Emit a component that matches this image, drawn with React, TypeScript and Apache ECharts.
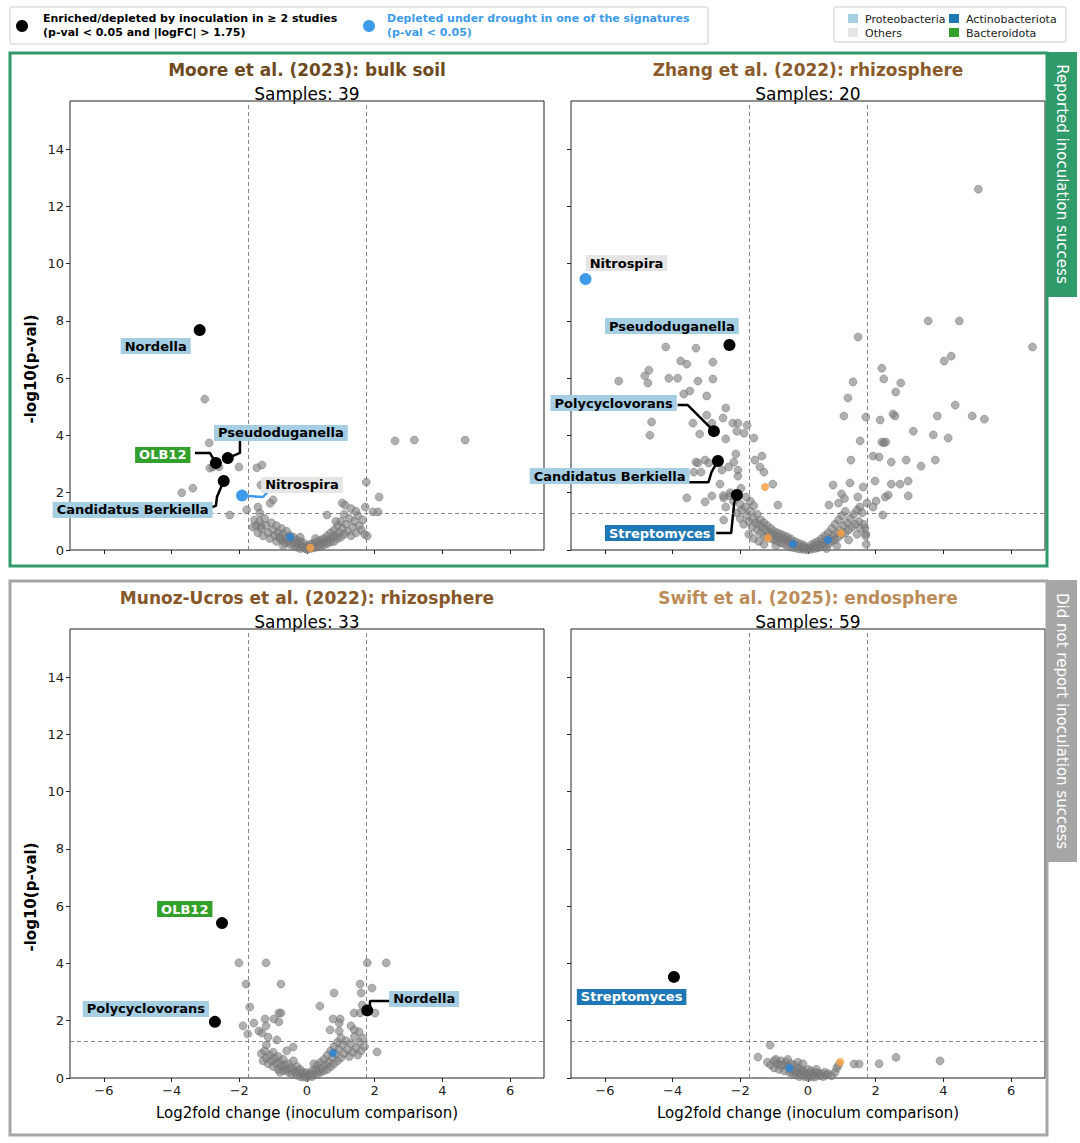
import React, { useEffect, useRef } from 'react';
import * as echarts from 'echarts';

const FONT = 'DejaVu Sans';
const X_TICKS = [-6, -4, -2, 0, 2, 4, 6];
const Y_TICKS = [0, 2, 4, 6, 8, 10, 12, 14];
const LOGFC_CUT = 1.75;
const P_CUT = 1.301;

const PHYLUM_BG: Record<string, string> = {
  Proteobacteria: '#a6cee3', Actinobacteriota: '#1f78b4', Others: '#e5e5e5', Bacteroidota: '#33a02c',
};
const PHYLUM_FG: Record<string, string> = {
  Proteobacteria: '#000', Actinobacteriota: '#fff', Others: '#000', Bacteroidota: '#fff',
};

const studyTitles = ['Moore et al. (2023): bulk soil', 'Zhang et al. (2022): rhizosphere', 'Munoz-Ucros et al. (2022): rhizosphere', 'Swift et al. (2025): endosphere'];
const studySamples = [39, 20, 33, 59];
const titleColors = ['#6e4a1f', '#8a5a2b', '#86572a', '#bb8c58'];

// ---------- Moore (top-left) ----------
const mooreGray: number[][] = [
  [-3.02, 5.27], [-2.89, 3.74], [-2.87, 2.86], [-2.01, 2.9], [-1.48, 2.87], [-1.33, 2.97], [-1.36, 2.27], [-3.7, 2.0], [-3.37, 2.16],
  [-2.28, 1.22], [-1.78, 1.4], [-1.0, 1.75], [-1.09, 1.63], [-1.45, 1.5], [-1.39, 1.29], [-1.6, 0.8], [-1.55, 1.05], [-1.36, 0.84],
  [2.6, 3.81], [3.17, 3.84], [4.67, 3.84], [1.75, 2.37], [2.13, 1.85], [1.95, 1.33], [2.1, 1.33], [1.72, 1.5], [1.04, 1.64], [1.12, 1.57],
  [1.78, 0.49], [-2.6, 2.9], [-2.78, 2.9], [0.59, 1.22], [1.3, 1.45], [1.45, 1.35],
  [-1.5, 0.85], [-1.45, 0.6], [-1.4, 1.0], [-1.35, 0.75], [-1.3, 0.5], [-1.25, 1.1], [-1.2, 0.85], [-1.15, 0.6], [-1.1, 0.4], [-1.05, 0.95],
  [-1.0, 0.7], [-0.95, 0.5], [-0.9, 0.3], [-0.9, 0.85], [-0.85, 0.6], [-0.8, 0.45], [-0.75, 0.35], [-0.75, 0.75], [-0.7, 0.55], [-0.65, 0.25],
  [-0.6, 0.4], [-0.6, 0.65], [-0.55, 0.3], [-0.5, 0.2], [-0.5, 0.5], [-0.45, 0.35], [-0.4, 0.15], [-0.4, 0.45], [-0.35, 0.25], [-0.3, 0.1],
  [-0.3, 0.35], [-0.25, 0.2], [-0.2, 0.05], [-0.2, 0.3], [-0.15, 0.15], [-0.1, 0.1], [-0.1, 0.25], [-0.05, 0.05], [0, 0.15], [0, 0.02],
  [0.05, 0.1], [0.1, 0.2], [0.1, 0.05], [0.15, 0.12], [0.2, 0.25], [0.2, 0.08], [0.25, 0.15], [0.3, 0.3], [0.3, 0.1], [0.35, 0.2],
  [0.4, 0.35], [0.4, 0.12], [0.45, 0.25], [0.5, 0.4], [0.5, 0.18], [0.55, 0.3], [0.6, 0.5], [0.6, 0.22], [0.65, 0.35], [0.7, 0.6],
  [0.7, 0.28], [0.75, 0.45], [0.8, 0.7], [0.8, 0.3], [0.85, 0.5], [0.9, 0.85], [0.9, 0.4], [0.95, 0.6], [1.0, 1.0], [1.0, 0.45],
  [1.05, 0.75], [1.1, 0.55], [1.15, 0.9], [1.2, 0.65], [1.25, 1.1], [1.3, 0.5], [1.35, 0.8], [1.4, 1.0], [1.45, 0.6], [1.5, 1.2],
  [1.55, 0.85], [1.6, 0.7], [1.65, 1.05], [1.7, 0.55], [-0.8, 0.42], [-0.7, 0.15], [0.25, 0.4], [-0.2, 0.45], [1.1, 1.25], [0.85, 1.0],
];
const mooreOrange: number[][] = [[0.1, 0.08]];
const mooreBlueSmall: number[][] = [[-0.5, 0.45]];
const mooreBlack: number[][] = [[-3.17, 7.68], [-2.69, 3.04], [-2.34, 3.21], [-2.46, 2.41]];
const mooreBlue: number[][] = [[-1.92, 1.9]];

// ---------- Zhang (top-right) ----------
const zhangGray: number[][] = [
  [-4.2, 7.09], [-3.31, 7.05], [-3.76, 6.6], [-3.58, 6.49], [-2.81, 6.56], [-4.7, 6.28], [-4.82, 6.08], [-4.73, 5.83], [-5.59, 5.9],
  [-4.11, 6.0], [-3.85, 6.0], [-3.25, 5.9], [-2.81, 5.97], [-3.49, 5.55], [-3.67, 5.45], [-2.99, 5.38], [-4.62, 4.47], [-4.67, 4.01],
  [-3.4, 4.43], [-2.99, 4.71], [-2.84, 4.43], [-3.2, 4.05], [-2.51, 4.61], [-2.43, 4.96], [-2.43, 3.88], [-2.22, 4.43], [-2.07, 4.43],
  [-1.8, 4.36], [-2.1, 4.15], [-1.89, 4.08], [-1.6, 3.91], [-2.13, 3.35], [-2.19, 3.07], [-3.31, 3.07], [-3.25, 3.04], [-3.04, 3.14],
  [-2.93, 3.04], [-3.37, 2.72], [-3.16, 2.72], [-2.54, 2.79], [-2.34, 2.9], [-2.07, 2.79], [-2.07, 2.58], [-1.57, 3.14], [-1.36, 3.28],
  [-1.42, 2.9], [-1.3, 2.72], [-3.58, 1.82], [-3.04, 1.68], [-2.84, 1.89], [-2.6, 2.3], [-2.49, 1.82], [-2.43, 1.5], [-2.31, 1.89],
  [-1.98, 2.16], [-1.83, 1.85], [-2.49, 1.05], [-1.04, 2.3], [-0.89, 1.57],
  [5.03, 12.6], [3.55, 8.0], [4.47, 8.0], [6.63, 7.09], [1.48, 7.44], [4.02, 6.6], [4.23, 6.77], [2.18, 6.35], [2.24, 5.97], [2.74, 5.83],
  [2.59, 5.52], [1.33, 5.87], [1.18, 5.31], [1.06, 4.68], [1.71, 4.64], [2.13, 4.54], [2.51, 4.75], [2.57, 4.68], [4.35, 5.06], [3.82, 4.68],
  [4.85, 4.68], [5.21, 4.57], [3.11, 4.15], [3.7, 4.02], [4.14, 3.91], [1.54, 3.81], [2.18, 3.77], [2.24, 3.74], [2.3, 3.77], [1.27, 3.14],
  [1.92, 3.28], [2.1, 3.25], [2.46, 3.07], [2.9, 3.14], [3.34, 2.93], [3.76, 3.14], [0.74, 2.27], [1.24, 2.34], [1.63, 2.2], [1.98, 2.41],
  [2.46, 2.3], [2.72, 2.3], [2.96, 2.41], [0.99, 1.96], [1.08, 1.8], [0.9, 1.64], [0.62, 1.57], [1.47, 1.85], [1.74, 1.64], [1.53, 1.5],
  [1.92, 1.5], [2.01, 1.71], [2.28, 1.85], [2.37, 1.92], [2.96, 1.89], [2.21, 1.22], [1.68, 0.77], [1.71, 0.56],
  [-2.3, 2.0], [-2.5, 1.9], [-1.7, 1.7], [-1.6, 1.55], [-2.2, 1.7], [-2.1, 1.3], [-2.0, 1.6], [-2.0, 1.1], [-1.95, 1.4], [-1.9, 0.9],
  [-1.85, 1.5], [-1.8, 1.2], [-1.75, 1.0], [-1.7, 1.35], [-1.65, 0.8], [-1.6, 1.1], [-1.55, 0.95], [-1.5, 1.25], [-1.5, 0.7], [-1.45, 0.9],
  [-1.4, 1.05], [-1.4, 0.6], [-1.35, 0.8], [-1.3, 0.95], [-1.3, 0.5], [-1.25, 0.7], [-1.2, 0.85], [-1.2, 0.45], [-1.15, 0.6], [-1.1, 0.75],
  [-1.1, 0.4], [-1.05, 0.55], [-1.0, 0.65], [-1.0, 0.35], [-0.95, 0.5], [-0.9, 0.3], [-0.9, 0.6], [-0.85, 0.45], [-0.8, 0.25], [-0.8, 0.55],
  [-0.75, 0.4], [-0.7, 0.2], [-0.7, 0.5], [-0.65, 0.35], [-0.6, 0.15], [-0.6, 0.45], [-0.55, 0.3], [-0.5, 0.1], [-0.5, 0.38], [-0.45, 0.22],
  [-0.4, 0.08], [-0.4, 0.3], [-0.35, 0.15], [-0.3, 0.05], [-0.3, 0.25], [-0.25, 0.12], [-0.2, 0.03], [-0.2, 0.2], [-0.15, 0.1], [-0.1, 0.02],
  [-0.1, 0.15], [-0.05, 0.06], [0, 0.01], [0.05, 0.08], [0.1, 0.03], [0.1, 0.18], [0.15, 0.1], [0.2, 0.05], [0.2, 0.25], [0.25, 0.15],
  [0.3, 0.08], [0.3, 0.3], [0.35, 0.2], [0.4, 0.12], [0.4, 0.4], [0.45, 0.25], [0.5, 0.15], [0.5, 0.5], [0.55, 0.35], [0.6, 0.2],
  [0.6, 0.6], [0.65, 0.4], [0.7, 0.3], [0.7, 0.75], [0.75, 0.5], [0.8, 0.35], [0.8, 0.9], [0.85, 0.6], [0.9, 0.45], [0.9, 1.05],
  [0.95, 0.7], [1.0, 0.55], [1.0, 1.2], [1.05, 0.85], [1.1, 0.6], [1.1, 1.35], [1.15, 0.95], [1.2, 0.7], [1.25, 1.1], [1.3, 0.8],
  [1.35, 1.25], [1.4, 0.9], [1.45, 1.4], [1.5, 1.0], [1.55, 0.75], [1.6, 1.3], [1.65, 0.9], [1.7, 0.5], [1.72, 0.2],
  [-1.75, 0.55], [-1.6, 0.4], [-1.45, 0.3], [-1.3, 0.2], [-0.95, 0.15], [0.55, 0.05], [0.85, 0.15], [1.2, 0.35], [1.45, 0.55],
];
const zhangOrange: number[][] = [[-1.27, 2.2], [-1.18, 0.42], [0.97, 0.59]];
const zhangBlueSmall: number[][] = [[-0.44, 0.21], [0.59, 0.35]];
const zhangBlack: number[][] = [[-2.32, 7.16], [-2.78, 4.15], [-2.66, 3.11], [-2.1, 1.92]];
const zhangBlue: number[][] = [[-6.57, 9.46]];

// ---------- Munoz-Ucros (bottom-left) ----------
const munozGray: number[][] = [
  [-2.01, 4.02], [-1.21, 4.02], [-1.8, 3.28], [-0.77, 3.28], [-1.69, 2.48], [-1.89, 1.82], [-1.75, 1.54], [-1.57, 1.92], [-1.24, 2.06],
  [-1.21, 1.82], [-0.98, 2.06], [-0.83, 2.27], [-0.77, 2.27], [-0.83, 1.96], [-1.42, 1.64], [-1.33, 1.57], [-1.15, 1.43], [-0.89, 1.33],
  [0.38, 2.51], [0.8, 2.97], [0.77, 2.06], [0.98, 2.06], [0.95, 1.92], [0.68, 1.68], [0.95, 1.64], [1.3, 1.82], [1.4, 1.68], [1.54, 1.61],
  [1.57, 3.28], [1.78, 4.02], [2.34, 4.02], [1.6, 2.97], [1.63, 2.55], [1.92, 3.14], [1.39, 2.27], [1.57, 2.27], [2.01, 2.27], [2.07, 0.91],
  [-0.41, 1.08],
  [-1.35, 0.85], [-1.3, 0.6], [-1.25, 0.95], [-1.2, 0.7], [-1.15, 0.5], [-1.1, 0.8], [-1.05, 0.6], [-1.0, 0.4], [-1.0, 0.9], [-0.95, 0.7],
  [-0.9, 0.5], [-0.85, 0.3], [-0.85, 0.75], [-0.8, 0.55], [-0.75, 0.4], [-0.7, 0.25], [-0.7, 0.65], [-0.65, 0.45], [-0.6, 0.3], [-0.55, 0.2],
  [-0.55, 0.5], [-0.5, 0.35], [-0.45, 0.15], [-0.4, 0.3], [-0.4, 0.6], [-0.35, 0.2], [-0.3, 0.1], [-0.3, 0.4], [-0.25, 0.25], [-0.2, 0.05],
  [-0.2, 0.3], [-0.15, 0.15], [-0.1, 0.03], [-0.1, 0.2], [-0.05, 0.1], [0, 0.02], [0, 0.18], [0.05, 0.08], [0.1, 0.15], [0.15, 0.05],
  [0.15, 0.25], [0.2, 0.12], [0.25, 0.3], [0.3, 0.15], [0.3, 0.45], [0.35, 0.25], [0.4, 0.55], [0.4, 0.2], [0.45, 0.35], [0.5, 0.65],
  [0.5, 0.25], [0.55, 0.45], [0.6, 0.8], [0.6, 0.3], [0.65, 0.55], [0.7, 0.95], [0.7, 0.4], [0.75, 0.7], [0.8, 1.1], [0.8, 0.5],
  [0.85, 0.85], [0.9, 1.25], [0.9, 0.6], [0.95, 1.0], [1.0, 1.4], [1.0, 0.7], [1.05, 1.15], [1.1, 0.85], [1.15, 1.3], [1.2, 1.0],
  [1.25, 0.75], [1.3, 1.2], [1.35, 0.9], [1.4, 1.45], [1.45, 1.05], [1.5, 0.8], [1.55, 1.25], [1.6, 0.95], [1.65, 1.4], [1.7, 1.1],
  [-1.2, 1.15], [-0.6, 0.95], [0.2, 0.5], [-0.8, 0.2],
];
const munozOrange: number[][] = [];
const munozBlueSmall: number[][] = [[0.77, 0.87]];
const munozBlack: number[][] = [[-2.51, 5.41], [-2.72, 1.96], [1.78, 2.36]];
const munozBlue: number[][] = [];

// ---------- Swift (bottom-right) ----------
const swiftGray: number[][] = [
  [-1.12, 1.15], [-1.48, 0.73], [1.36, 0.49], [1.51, 0.49], [2.1, 0.5], [2.6, 0.72], [3.9, 0.6],
  [-1.2, 0.55], [-1.1, 0.45], [-1.0, 0.6], [-1.0, 0.35], [-0.9, 0.5], [-0.85, 0.3], [-0.8, 0.6], [-0.75, 0.45], [-0.7, 0.25], [-0.65, 0.55],
  [-0.6, 0.4], [-0.55, 0.2], [-0.5, 0.5], [-0.5, 0.3], [-0.45, 0.15], [-0.4, 0.45], [-0.4, 0.25], [-0.35, 0.1], [-0.3, 0.35], [-0.3, 0.2],
  [-0.25, 0.05], [-0.2, 0.3], [-0.2, 0.15], [-0.15, 0.25], [-0.1, 0.05], [-0.1, 0.2], [-0.05, 0.12], [0, 0.02], [0, 0.3], [0.05, 0.15],
  [0.1, 0.05], [0.1, 0.25], [0.15, 0.12], [0.2, 0.2], [0.2, 0.03], [0.25, 0.1], [0.3, 0.18], [0.35, 0.08], [0.4, 0.15], [0.45, 0.05],
  [0.5, 0.2], [0.55, 0.1], [0.6, 0.15], [0.7, 0.08], [0.8, 0.2], [0.85, 0.35], [0.9, 0.45], [-0.3, 0.55], [-0.6, 0.65], [-0.15, 0.5],
  [0.25, 0.3], [-0.95, 0.65], [-0.8, 0.45],
];
const swiftOrange: number[][] = [[0.95, 0.56]];
const swiftBlueSmall: number[][] = [[-0.55, 0.35]];
const swiftBlack: number[][] = [[-3.96, 3.53]];
const swiftBlue: number[][] = [];

// ---------- Annotations (label anchor + connector path, data units) ----------
type Ann = { text: string; phylum: string; at: number[]; path?: number[][]; lineColor?: string };
const mooreAnn: Ann[] = [
  { text: 'Nordella', phylum: 'Proteobacteria', at: [-4.47, 7.12] },
  { text: 'OLB12', phylum: 'Bacteroidota', at: [-4.26, 3.32], path: [[-3.31, 3.39], [-2.87, 3.39], [-2.69, 3.04]] },
  { text: 'Pseudoduganella', phylum: 'Proteobacteria', at: [-0.77, 4.09], path: [[-1.98, 3.81], [-1.98, 3.39], [-2.34, 3.21]] },
  { text: 'Candidatus Berkiella', phylum: 'Proteobacteria', at: [-5.15, 1.4], path: [[-2.81, 1.5], [-2.69, 1.54], [-2.66, 1.85], [-2.46, 2.41]] },
  { text: 'Nitrospira', phylum: 'Others', at: [-0.15, 2.27], path: [[-1.92, 1.9], [-1.3, 1.85], [-1.03, 2.2]], lineColor: '#3d9be9' },
];
const zhangAnn: Ann[] = [
  { text: 'Nitrospira', phylum: 'Others', at: [-5.36, 10.02] },
  { text: 'Pseudoduganella', phylum: 'Proteobacteria', at: [-4.02, 7.82] },
  { text: 'Polycyclovorans', phylum: 'Proteobacteria', at: [-5.74, 5.13], path: [[-3.85, 5.06], [-3.55, 5.06], [-2.78, 4.15]] },
  { text: 'Candidatus Berkiella', phylum: 'Proteobacteria', at: [-5.86, 2.58], path: [[-3.52, 2.37], [-2.94, 2.37], [-2.85, 2.72], [-2.66, 3.11]] },
  { text: 'Streptomyces', phylum: 'Actinobacteriota', at: [-4.38, 0.59], path: [[-2.71, 0.59], [-2.27, 0.59], [-2.18, 1.64], [-2.1, 1.92]] },
];
const munozAnn: Ann[] = [
  { text: 'OLB12', phylum: 'Bacteroidota', at: [-3.61, 5.9] },
  { text: 'Polycyclovorans', phylum: 'Proteobacteria', at: [-4.76, 2.41] },
  { text: 'Nordella', phylum: 'Proteobacteria', at: [3.46, 2.76], path: [[2.45, 2.69], [1.86, 2.69], [1.86, 2.44], [1.78, 2.36]] },
];
const swiftAnn: Ann[] = [
  { text: 'Streptomyces', phylum: 'Actinobacteriota', at: [-5.21, 2.83] },
];

const panels = [
  { gray: mooreGray, orange: mooreOrange, blueSmall: mooreBlueSmall, black: mooreBlack, blue: mooreBlue, ann: mooreAnn },
  { gray: zhangGray, orange: zhangOrange, blueSmall: zhangBlueSmall, black: zhangBlack, blue: zhangBlue, ann: zhangAnn },
  { gray: munozGray, orange: munozOrange, blueSmall: munozBlueSmall, black: munozBlack, blue: munozBlue, ann: munozAnn },
  { gray: swiftGray, orange: swiftOrange, blueSmall: swiftBlueSmall, black: swiftBlack, blue: swiftBlue, ann: swiftAnn },
];

const GRIDS = [
  { left: 70, top: 101, width: 474, height: 449 },
  { left: 571, top: 101, width: 474, height: 449 },
  { left: 70, top: 629, width: 474, height: 449 },
  { left: 571, top: 629, width: 474, height: 449 },
];

const fmt = (v: number) => (v < 0 ? '\u2212' + Math.abs(v) : String(v));

function buildOption() {
  const grid = GRIDS.map((g) => ({ ...g, show: true, borderColor: '#222', borderWidth: 1, backgroundColor: 'transparent' }));
  const xAxis = GRIDS.map((_, i) => ({
    type: 'value', gridIndex: i, min: -7, max: 7,
    axisLine: { show: false, onZero: false }, splitLine: { show: false },
    axisTick: { show: true, inside: false, length: 4, customValues: X_TICKS, lineStyle: { color: '#222' } },
    axisLabel: { show: i >= 2, customValues: X_TICKS, formatter: fmt, fontFamily: FONT, fontSize: 13, color: '#222', margin: 6 },
  }));
  const yAxis = GRIDS.map((_, i) => ({
    type: 'value', gridIndex: i, min: 0, max: 15.68,
    axisLine: { show: false, onZero: false }, splitLine: { show: false },
    axisTick: { show: true, inside: false, length: 4, customValues: Y_TICKS, lineStyle: { color: '#222' } },
    axisLabel: { show: i % 2 === 0, customValues: Y_TICKS, formatter: fmt, fontFamily: FONT, fontSize: 13, color: '#222', margin: 6 },
  }));
  const series: any[] = [];
  panels.forEach((p, i) => {
    const ax = { xAxisIndex: i, yAxisIndex: i };
    series.push({
      type: 'scatter', ...ax, data: p.gray, symbolSize: 8, silent: true, z: 2,
      itemStyle: { color: 'rgba(128,128,128,0.62)', borderColor: 'rgba(105,105,105,0.7)', borderWidth: 0.6, opacity: 1 },
      markLine: {
        silent: true, symbol: 'none', label: { show: false }, animation: false,
        lineStyle: { type: [4, 3], color: '#777', width: 0.9 },
        data: [{ xAxis: -LOGFC_CUT }, { xAxis: LOGFC_CUT }, { yAxis: P_CUT }],
      },
    });
    series.push({ type: 'scatter', ...ax, data: p.orange, symbolSize: 8, silent: true, z: 3, itemStyle: { color: 'rgba(244,160,70,0.85)', opacity: 1 } });
    series.push({ type: 'scatter', ...ax, data: p.blueSmall, symbolSize: 8, silent: true, z: 3, itemStyle: { color: 'rgba(45,130,210,0.85)', opacity: 1 } });
    p.ann.forEach((a) => {
      if (a.path) {
        series.push({
          type: 'line', ...ax, data: a.path, showSymbol: false, symbol: 'none', silent: true, z: 4,
          lineStyle: { color: a.lineColor || '#000', width: 2.5, opacity: 1 },
        });
      }
    });
    series.push({ type: 'scatter', ...ax, data: p.black, symbolSize: 12, silent: true, z: 5, itemStyle: { color: '#000', opacity: 1 } });
    series.push({ type: 'scatter', ...ax, data: p.blue, symbolSize: 12, silent: true, z: 5, itemStyle: { color: '#3d9be9', opacity: 1 } });
    series.push({
      type: 'scatter', ...ax, silent: true, z: 6, symbolSize: 1,
      itemStyle: { color: 'rgba(0,0,0,0)', opacity: 1 },
      data: p.ann.map((a) => ({
        name: a.text, value: a.at,
        label: { backgroundColor: PHYLUM_BG[a.phylum], color: PHYLUM_FG[a.phylum] },
      })),
      label: {
        show: true, position: 'inside', formatter: '{b}', fontFamily: FONT, fontSize: 13, fontWeight: 'bold',
        padding: [2, 4, 1, 4], opacity: 1,
      },
    });
  });

  const g: any[] = [];
  g.push({ type: 'rect', shape: { x: 10, y: 53, width: 1037, height: 513 }, style: { fill: 'none', stroke: '#2f9a6a', lineWidth: 3 } });
  g.push({ type: 'rect', shape: { x: 1046, y: 52, width: 31, height: 245 }, style: { fill: '#2f9a6a' } });
  g.push({ type: 'text', x: 1062, y: 174, rotation: -Math.PI / 2, style: { text: 'Reported inoculation success', fill: '#fff', font: `15px "${FONT}"`, align: 'center', verticalAlign: 'middle' } });
  g.push({ type: 'rect', shape: { x: 10, y: 581, width: 1037, height: 554 }, style: { fill: 'none', stroke: '#a6a6a6', lineWidth: 3 } });
  g.push({ type: 'rect', shape: { x: 1046, y: 580, width: 31, height: 282 }, style: { fill: '#a6a6a6' } });
  g.push({ type: 'text', x: 1062, y: 721, rotation: -Math.PI / 2, style: { text: 'Did not report inoculation success', fill: '#fff', font: `15px "${FONT}"`, align: 'center', verticalAlign: 'middle' } });
  GRIDS.forEach((gr, i) => {
    const cx = gr.left + gr.width / 2;
    g.push({ type: 'text', x: cx, y: gr.top - 31, style: { text: studyTitles[i], fill: titleColors[i], font: `bold 17px "${FONT}"`, align: 'center', verticalAlign: 'middle' } });
    g.push({ type: 'text', x: cx, y: gr.top - 7, style: { text: 'Samples: ' + studySamples[i], fill: '#000', font: `17px "${FONT}"`, align: 'center', verticalAlign: 'middle' } });
  });
  [369, 897].forEach((y) => {
    g.push({ type: 'text', x: 31, y, rotation: Math.PI / 2, style: { text: '-log10(p-val)', fill: '#000', font: `bold 15px "${FONT}"`, align: 'center', verticalAlign: 'middle' } });
  });
  [GRIDS[2], GRIDS[3]].forEach((gr) => {
    g.push({ type: 'text', x: gr.left + gr.width / 2, y: 1113, style: { text: 'Log2fold change (inoculum comparison)', fill: '#000', font: `15px "${FONT}"`, align: 'center', verticalAlign: 'middle' } });
  });
  g.push({ type: 'rect', shape: { x: 10, y: 7, width: 698, height: 37, r: 2 }, style: { fill: '#fff', stroke: '#cccccc', lineWidth: 1 } });
  g.push({ type: 'circle', shape: { cx: 22, cy: 26, r: 6 }, style: { fill: '#000' } });
  g.push({ type: 'text', x: 43, y: 18, style: { text: 'Enriched/depleted by inoculation in \u2265 2 studies', fill: '#000', font: `bold 11px "${FONT}"`, verticalAlign: 'middle' } });
  g.push({ type: 'text', x: 43, y: 32, style: { text: '(p-val < 0.05 and |logFC| > 1.75)', fill: '#000', font: `bold 11px "${FONT}"`, verticalAlign: 'middle' } });
  g.push({ type: 'circle', shape: { cx: 369, cy: 26, r: 6 }, style: { fill: '#3d9be9' } });
  g.push({ type: 'text', x: 387, y: 18, style: { text: 'Depleted under drought in one of the signatures', fill: '#3d9be9', font: `bold 11px "${FONT}"`, verticalAlign: 'middle' } });
  g.push({ type: 'text', x: 387, y: 32, style: { text: '(p-val < 0.05)', fill: '#3d9be9', font: `bold 11px "${FONT}"`, verticalAlign: 'middle' } });
  g.push({ type: 'rect', shape: { x: 834, y: 7, width: 232, height: 35, r: 2 }, style: { fill: '#fff', stroke: '#cccccc', lineWidth: 1 } });
  const leg2 = [
    { name: 'Proteobacteria', x: 848, y: 14 }, { name: 'Others', x: 848, y: 28 },
    { name: 'Actinobacteriota', x: 949, y: 14 }, { name: 'Bacteroidota', x: 949, y: 28 },
  ];
  leg2.forEach((l) => {
    g.push({ type: 'rect', shape: { x: l.x, y: l.y, width: 10, height: 9 }, style: { fill: PHYLUM_BG[l.name] } });
    g.push({ type: 'text', x: l.x + 17, y: l.y + 5, style: { text: l.name, fill: '#222', font: `11px "${FONT}"`, verticalAlign: 'middle' } });
  });

  return { animation: false, backgroundColor: '#fff', grid, xAxis, yAxis, series, graphic: g };
}

export default function App() {
  const ref = useRef<HTMLDivElement>(null);
  useEffect(() => {
    document.body.style.margin = '0';
    if (!ref.current) return;
    const chart = echarts.init(ref.current, undefined, { renderer: 'svg' });
    chart.setOption(buildOption() as any);
    return () => chart.dispose();
  }, []);
  return <div ref={ref} style={{ width: 1080, height: 1143 }} />;
}
